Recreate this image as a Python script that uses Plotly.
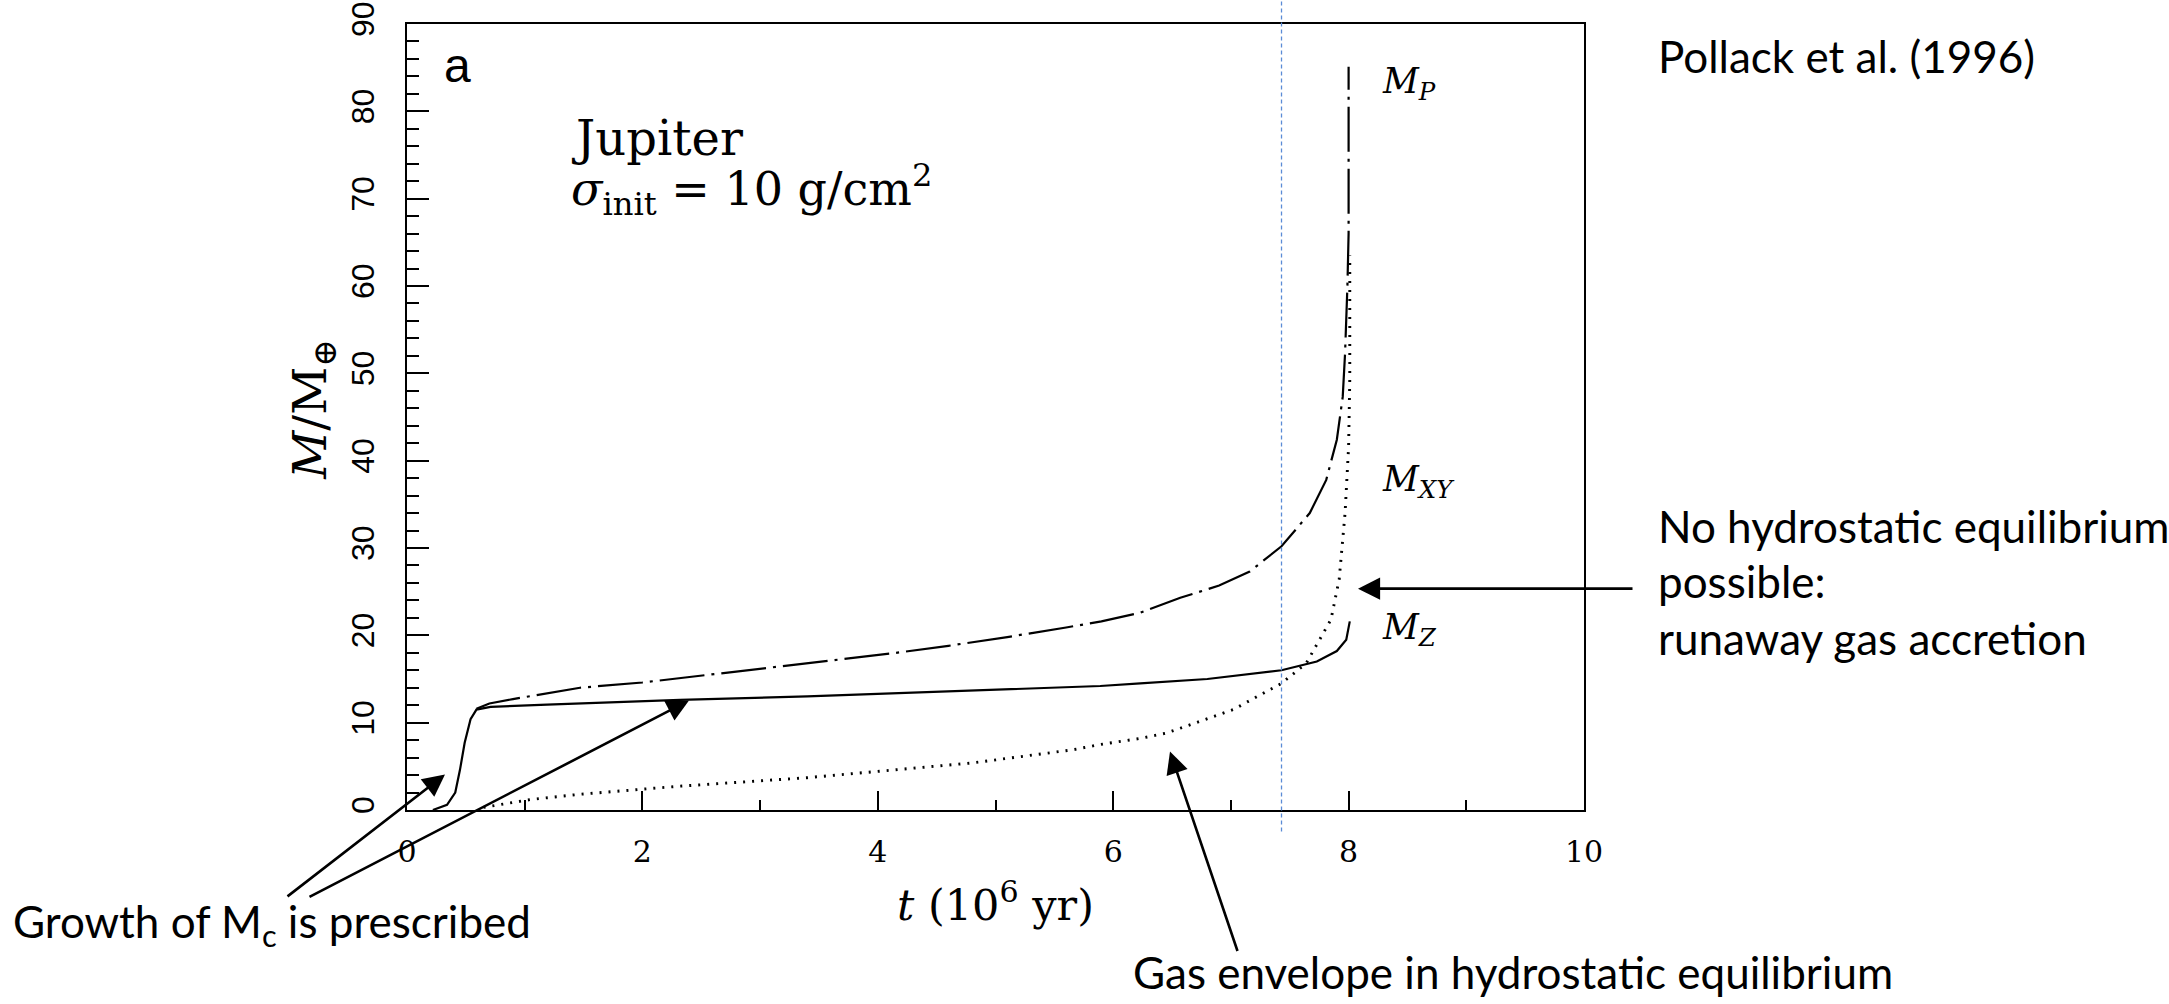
import plotly.graph_objects as go

# ---- data ----
t_p = [0.59, 0.7, 0.9, 1.2, 1.47, 2.0, 2.5, 3.1, 3.6, 4.1, 4.6, 5.1, 5.6, 5.9, 6.23,
       6.57, 6.9, 7.16, 7.43, 7.67, 7.81, 7.9, 7.95, 7.97, 7.99, 8.0, 8.0]
m_p = [11.6, 12.2, 12.7, 13.4, 14.0, 14.6, 15.4, 16.3, 17.1, 17.9, 18.8, 19.8, 20.9, 21.6, 22.6,
       24.3, 25.7, 27.3, 30.2, 34.0, 37.8, 42.4, 47.3, 52.3, 60.0, 66.0, 85.1]

t_z = [0.22, 0.34, 0.41, 0.45, 0.49, 0.54, 0.59, 0.71, 1.19, 1.98, 2.32, 3.4, 4.81, 5.89,
       6.23, 6.8, 7.43, 7.73, 7.9, 7.98, 8.01]
m_z = [0.0, 0.6, 2.0, 4.6, 7.7, 10.4, 11.5, 11.8, 12.07, 12.45, 12.6, 13.0, 13.7, 14.2,
       14.5, 15.0, 16.0, 17.0, 18.2, 19.5, 21.6]

t_xy = [0.65, 1.05, 1.47, 2.0, 2.29, 3.4, 4.81, 5.66, 5.89, 6.23, 6.45, 7.02, 7.43, 7.64,
        7.85, 7.92, 7.97, 8.0, 8.01, 8.01]
m_xy = [0.3, 1.2, 1.8, 2.4, 2.7, 3.7, 5.4, 6.9, 7.5, 8.2, 8.8, 11.5, 14.5, 16.8,
        21.8, 26.4, 34.0, 41.6, 49.3, 63.5]

x_ticks = [0, 2, 4, 6, 8, 10]
y_ticks = [0, 10, 20, 30, 40, 50, 60, 70, 80, 90]
t_marker = 7.43

# ---- layout geometry (pixels) ----
W, H = 2169, 1004
L, R, T, B = 407, 1584, 24, 810.5


def px(xp):
    return (xp - L) / (R - L)


def py(yp):
    return (B - yp) / (B - T)


fig = go.Figure()
fig.add_trace(go.Scatter(x=t_z, y=m_z, mode="lines", line=dict(color="black", width=2.2),
                         showlegend=False))
fig.add_trace(go.Scatter(x=t_xy, y=m_xy, mode="lines",
                         line=dict(color="black", width=2.9, dash="2px,7px"), showlegend=False))
fig.add_trace(go.Scatter(x=t_p, y=m_p, mode="lines",
                         line=dict(color="black", width=2.2, dash="45px,7px,3px,7px"),
                         showlegend=False))

serif = "DejaVu Serif"
sans = "Lato"

axis_common = dict(showgrid=False, zeroline=False, showline=True, linecolor="black",
                   linewidth=2, mirror=True, ticks="inside", tickcolor="black", tickwidth=2,
                   automargin=False)

fig.update_layout(
    width=W, height=H,
    margin=dict(l=L, r=W - R, t=T, b=H - B),
    paper_bgcolor="white", plot_bgcolor="white",
    xaxis=dict(range=[0, 10], tickvals=x_ticks, ticklen=19,
               minor=dict(dtick=1, ticks="inside", ticklen=10, tickwidth=2, tickcolor="black"),
               tickfont=dict(family=serif, size=30, color="black"), ticklabelstandoff=14,
               **axis_common),
    yaxis=dict(range=[0, 90], tickvals=y_ticks, ticklen=22, tickangle=-90,
               minor=dict(dtick=2, ticks="inside", ticklen=12, tickwidth=2, tickcolor="black"),
               tickfont=dict(family="Liberation Sans", size=32, color="black"),
               ticklabelstandoff=18, **axis_common),
)

# blue dashed marker line
fig.add_shape(type="line", xref="x", yref="paper", x0=t_marker, x1=t_marker,
              y0=py(832), y1=py(0), line=dict(color="#5b8bd6", width=1.3, dash="4px,3px"))

ann = []


def text(s, xp, yp, size, family, xanchor="left", yanchor="middle", angle=0):
    ann.append(dict(text=s, x=px(xp), y=py(yp), xref="paper", yref="paper",
                    xanchor=xanchor, yanchor=yanchor, showarrow=False, textangle=angle,
                    font=dict(family=family, size=size, color="black")))


# axis titles
text("<i>t</i> (10<sup>6</sup> yr)", 995, 903, 43, serif, xanchor="center")
text("<i>M</i>/M<sub>⊕</sub>", 313, 410, 47, serif, xanchor="center", angle=-90)

# inside labels
text("a", 457, 66, 48, "Liberation Sans", xanchor="center")
text("Jupiter", 569, 138, 48, serif)
text("<i>σ</i><sub>init</sub> = 10 g/cm<sup>2</sup>", 569, 190, 46, serif)
text("<i>M</i><sub><i>P</i></sub>", 1380, 84, 35, serif)
text("<i>M</i><sub><i>XY</i></sub>", 1380, 482, 35, serif)
text("<i>M</i><sub><i>Z</i></sub>", 1380, 630, 35, serif)

# outside annotations
text("Pollack et al. (1996)", 1656, 56, 44, sans)
text("No hydrostatic equilibrium", 1656, 526, 44, sans)
text("possible:", 1656, 581, 44, sans)
text("runaway gas accretion", 1656, 638, 44, sans)
text("Gas envelope in hydrostatic equilibrium", 1131, 973, 44, sans)
text("Growth of M<sub>c</sub> is prescribed", 11, 925, 44, sans)


def arrow(tip_x, tip_y, tail_x, tail_y):
    ann.append(dict(text="", x=px(tip_x), y=py(tip_y), xref="paper", yref="paper",
                    ax=tail_x - tip_x, ay=tail_y - tip_y, showarrow=True,
                    arrowhead=2, arrowsize=1.7, arrowwidth=2.6, arrowcolor="black"))


arrow(445, 775, 286, 898)
arrow(689, 701, 308, 898)
arrow(1170, 752, 1238, 953)
arrow(1358, 589, 1634, 589)

fig.update_layout(annotations=ann)
fig.write_html("out.html", config={"displayModeBar": False},
               post_script="document.body.style.margin='0';")
